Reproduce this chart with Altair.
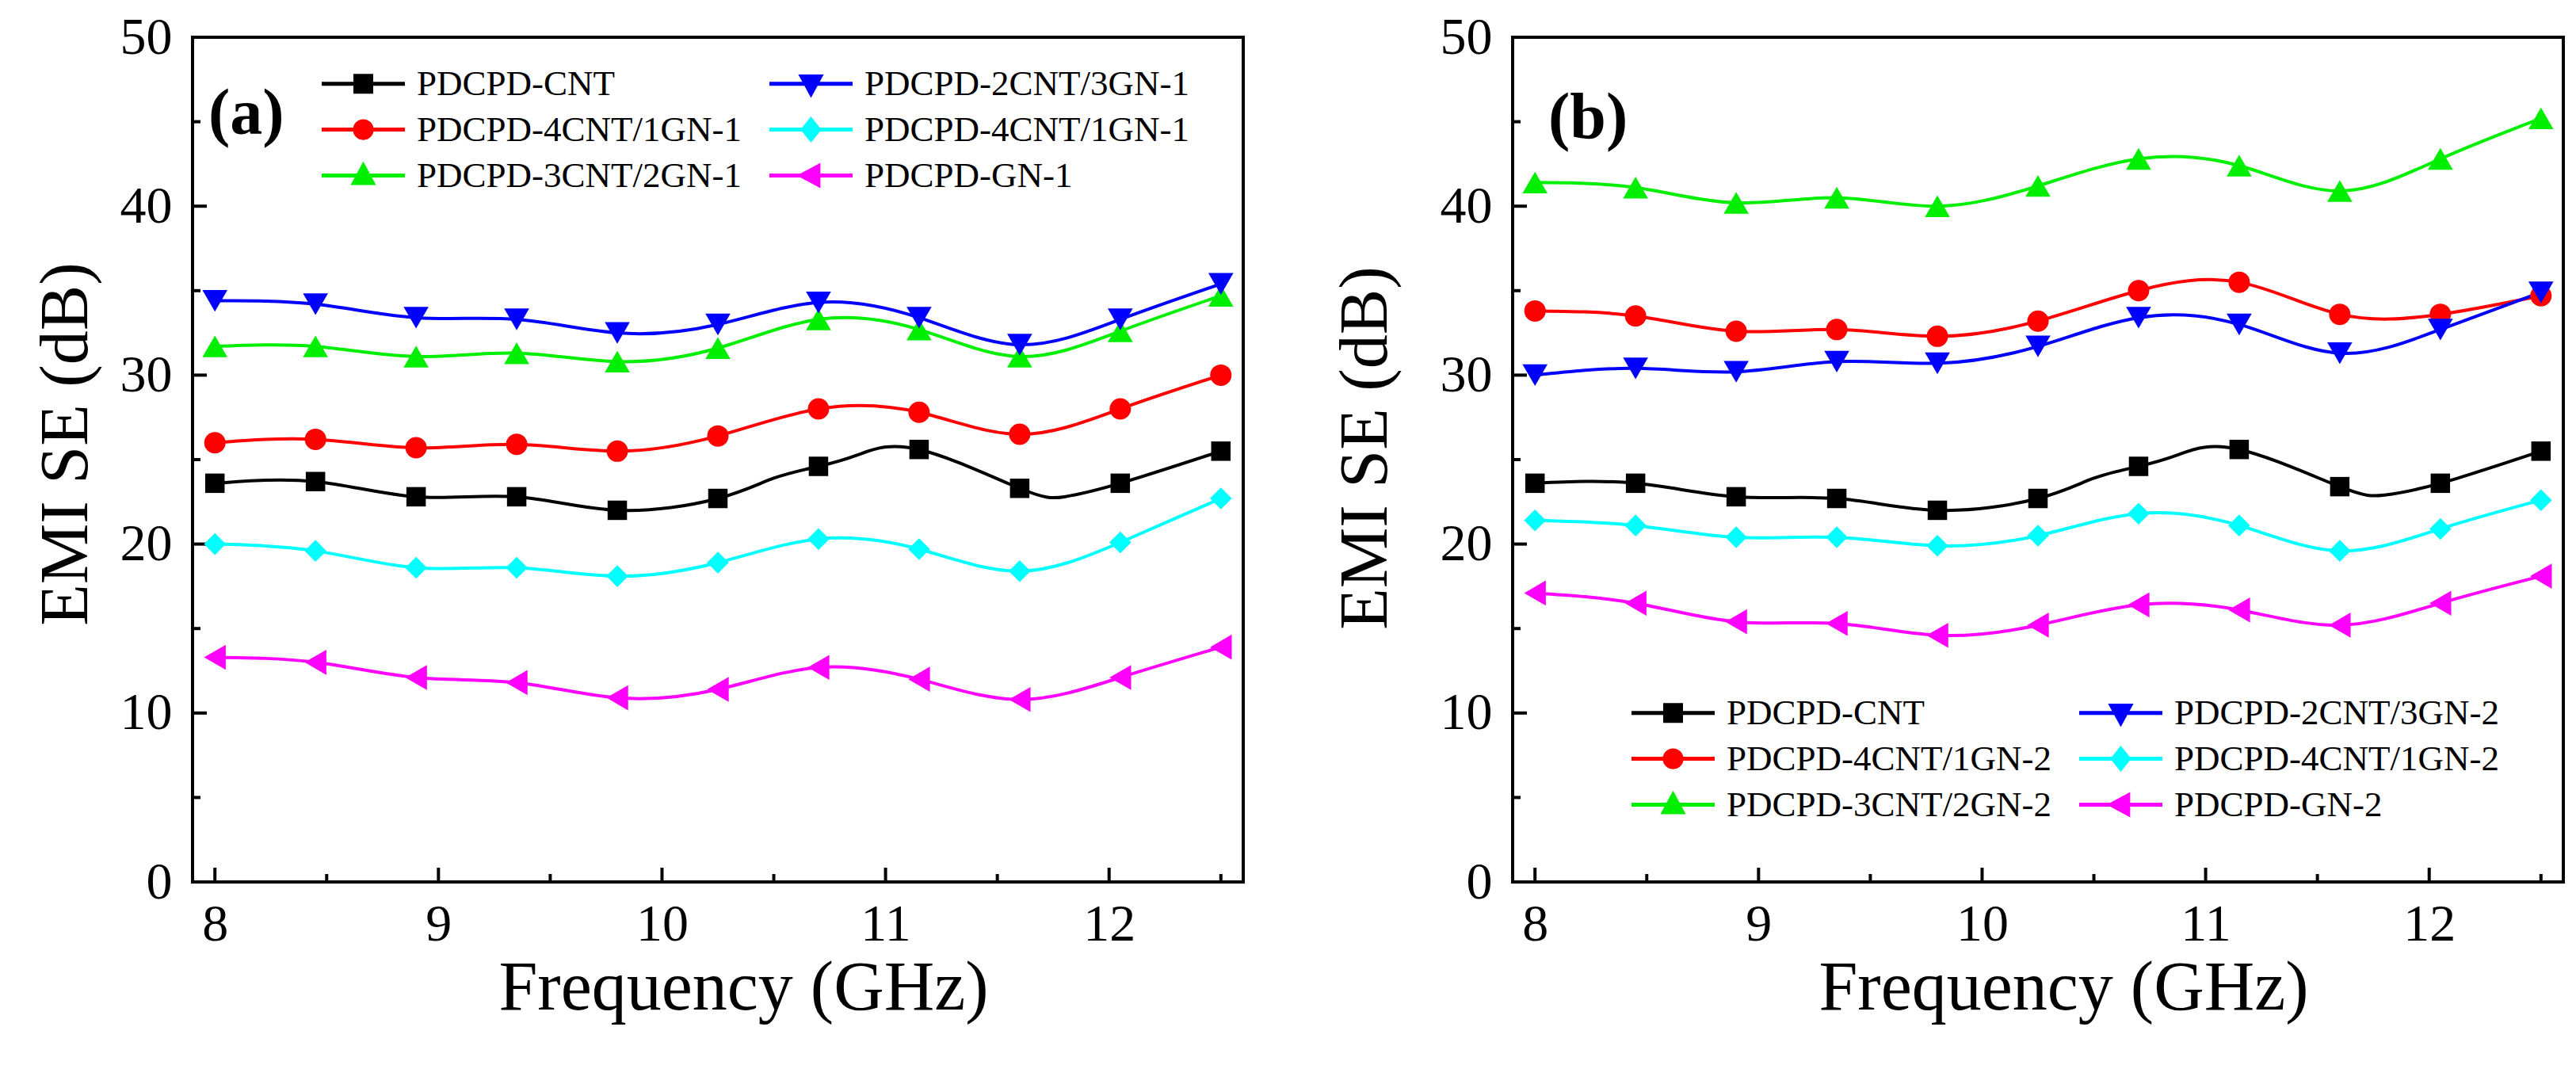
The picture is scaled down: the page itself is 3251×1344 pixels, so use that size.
import altair as alt
import pandas as pd

# ---------------- data ----------------
FREQ = [8.0, 8.45, 8.9, 9.35, 9.8, 10.25, 10.7, 11.15, 11.6, 12.05, 12.5]

# panel (a)
A_CNT = [23.6, 23.7, 22.8, 22.8, 22.0, 22.7, 24.6, 25.6, 23.3, 23.6, 25.5]
A_4CNT1GN_RED = [26.0, 26.2, 25.7, 25.9, 25.5, 26.4, 28.0, 27.8, 26.5, 28.0, 30.0]
A_3CNT2GN = [31.7, 31.7, 31.1, 31.3, 30.8, 31.6, 33.3, 32.7, 31.1, 32.6, 34.7]
A_2CNT3GN = [34.4, 34.2, 33.4, 33.3, 32.5, 33.0, 34.3, 33.4, 31.8, 33.3, 35.4]
A_4CNT1GN_CYAN = [20.0, 19.6, 18.6, 18.6, 18.1, 18.9, 20.3, 19.7, 18.4, 20.1, 22.7]
A_GN = [13.3, 13.0, 12.1, 11.8, 10.9, 11.4, 12.7, 12.0, 10.8, 12.1, 13.9]

# panel (b)
B_CNT = [23.6, 23.6, 22.8, 22.7, 22.0, 22.7, 24.6, 25.6, 23.4, 23.6, 25.5]
B_4CNT1GN_RED = [33.8, 33.5, 32.6, 32.7, 32.3, 33.2, 35.0, 35.5, 33.6, 33.6, 34.7]
B_3CNT2GN = [41.4, 41.1, 40.2, 40.5, 40.0, 41.2, 42.8, 42.4, 40.9, 42.8, 45.2]
B_2CNT3GN = [30.0, 30.4, 30.2, 30.8, 30.7, 31.7, 33.4, 33.0, 31.3, 32.7, 34.9]
B_4CNT1GN_CYAN = [21.4, 21.1, 20.4, 20.4, 19.9, 20.5, 21.8, 21.1, 19.6, 20.9, 22.6]
B_GN = [17.1, 16.5, 15.4, 15.3, 14.6, 15.2, 16.4, 16.1, 15.2, 16.5, 18.1]

# extra points read on the black curves between markers (line only)
CNT_EXTRA_FREQ = [10.5, 10.88, 11.8]
A_CNT_EXTRA = [23.9, 25.3, 22.8]
B_CNT_EXTRA = [23.9, 25.3, 22.9]

# legend order (filled column by column)
KEYS = ["cnt", "c4g1r", "c3g2", "c2g3", "c4g1c", "gn"]
NAMES_A = ["PDCPD-CNT", "PDCPD-4CNT/1GN-1", "PDCPD-3CNT/2GN-1",
           "PDCPD-2CNT/3GN-1", "PDCPD-4CNT/1GN-1", "PDCPD-GN-1"]
NAMES_B = ["PDCPD-CNT", "PDCPD-4CNT/1GN-2", "PDCPD-3CNT/2GN-2",
           "PDCPD-2CNT/3GN-2", "PDCPD-4CNT/1GN-2", "PDCPD-GN-2"]
TAGS = ["(a)", "(b)"]

Y_MAJOR = [0, 10, 20, 30, 40, 50]
Y_MINOR = [5, 15, 25, 35, 45]
X_MAJOR = [8, 9, 10, 11, 12]
X_MINOR = [8.5, 9.5, 10.5, 11.5, 12.5]

# ---------------- styles ----------------
COLORS = ["#000000", "#ff0000", "#00ee00", "#0000ff", "#00ffff", "#ff00ff"]
MARKERS = ["square", "circle", "triangle-up", "triangle-down", "diamond", "triangle-left"]
MSIZES = [600, 729, 1000, 1000, 760, 1000]
LEGEND_PATHS = [
    "M-4.2,0H4.2M-0.8,-0.8H0.8V0.8H-0.8Z",
    "M-4.2,0H4.2M-0.85,0A0.85,0.85,0,1,0,0.85,0A0.85,0.85,0,1,0,-0.85,0Z",
    "M-4.2,0H4.2M0,-1L0.95,0.75L-0.95,0.75Z",
    "M-4.2,0H4.2M0,1L0.95,-0.75L-0.95,-0.75Z",
    "M-4.2,0H4.2M0,-1L0.8,0L0,1L-0.8,0Z",
    "M-4.2,0H4.2M-1,0L0.75,-0.95L0.75,0.95Z",
]
FONT = "Liberation Serif"
W, H = 1326, 1066

x_scale = alt.Scale(domain=[7.9, 12.6], nice=False, zero=False)
y_scale = alt.Scale(domain=[0, 50], nice=False, zero=False)


def panel(values, names, extra, tag, tag_x, tag_y, leg_x, leg_y, y_title_pad, y_title_y):
    x_axis = alt.Axis(values=X_MAJOR, format="d", ticks=False, tickSize=0, domain=False,
                      grid=False, labelFont=FONT, labelFontSize=66, labelColor="black",
                      labelPadding=21, labelFlush=False, titleFont=FONT, titleFontSize=88,
                      titleFontWeight="normal", titleColor="black", titlePadding=4,
                      titleX=695)
    y_axis = alt.Axis(values=Y_MAJOR, format="d", ticks=False, tickSize=0, domain=False,
                      grid=False, labelFont=FONT, labelFontSize=66, labelColor="black",
                      labelPadding=26, labelFlush=False, titleFont=FONT, titleFontSize=86,
                      titleFontWeight="normal", titleColor="black", titlePadding=y_title_pad,
                      titleY=y_title_y)
    X = alt.X("f:Q", scale=x_scale, axis=x_axis, title="Frequency (GHz)")
    Y = alt.Y("se:Q", scale=y_scale, axis=y_axis, title="EMI SE (dB)")

    layers = []
    # inward ticks
    layers.append(alt.Chart(pd.DataFrame({"se": Y_MAJOR})).mark_rule(color="black", strokeWidth=4)
                  .encode(y=Y, x=alt.value(0), x2=alt.value(18)))
    layers.append(alt.Chart(pd.DataFrame({"se": Y_MINOR})).mark_rule(color="black", strokeWidth=4)
                  .encode(y=Y, x=alt.value(0), x2=alt.value(10)))
    layers.append(alt.Chart(pd.DataFrame({"f": X_MAJOR})).mark_rule(color="black", strokeWidth=4)
                  .encode(x=X, y=alt.value(H), y2=alt.value(H - 18)))
    layers.append(alt.Chart(pd.DataFrame({"f": X_MINOR})).mark_rule(color="black", strokeWidth=4)
                  .encode(x=X, y=alt.value(H), y2=alt.value(H - 10)))

    # curves
    for i, key in enumerate(KEYS):
        f_line = list(FREQ)
        v_line = list(values[i])
        if key == "cnt":
            pairs = sorted(list(zip(f_line, v_line)) + list(zip(CNT_EXTRA_FREQ, extra)))
            f_line = [p[0] for p in pairs]
            v_line = [p[1] for p in pairs]
        df_line = pd.DataFrame({"f": f_line, "se": v_line})
        layers.append(alt.Chart(df_line).mark_line(color=COLORS[i], strokeWidth=4,
                                                   interpolate="natural")
                      .encode(x=X, y=Y))
    # markers
    for i, key in enumerate(KEYS):
        df_pt = pd.DataFrame({"f": FREQ, "se": values[i]})
        layers.append(alt.Chart(df_pt).mark_point(shape=MARKERS[i], size=MSIZES[i], filled=True,
                                                  opacity=1, color=COLORS[i], strokeWidth=0)
                      .encode(x=X, y=Y))

    # legend (empty layer providing the legend symbols)
    label_expr = ("[" + ",".join("'" + n + "'" for n in names) + "][indexof(["
                  + ",".join("'" + k + "'" for k in KEYS) + "], datum.label)]")
    legend = alt.Legend(orient="none", legendX=leg_x, legendY=leg_y, columns=2, title=None,
                        labelFont=FONT, labelFontSize=45, labelColor="black", labelLimit=2000,
                        symbolSize=625, symbolStrokeWidth=5, symbolOpacity=1,
                        labelOffset=45, columnPadding=24, rowPadding=12, padding=0,
                        labelExpr=label_expr)
    leg_df = pd.DataFrame({"f": [8.0] * len(KEYS), "se": [0.0] * len(KEYS), "key": KEYS})
    layers.append(alt.Chart(leg_df).transform_filter("false")
                  .mark_point(filled=True, opacity=1, strokeWidth=5)
                  .encode(x=X, y=Y,
                          color=alt.Color("key:N", scale=alt.Scale(domain=KEYS, range=COLORS),
                                          legend=legend, title=None),
                          stroke=alt.Stroke("key:N", scale=alt.Scale(domain=KEYS, range=COLORS),
                                            legend=legend, title=None),
                          shape=alt.Shape("key:N", scale=alt.Scale(domain=KEYS, range=LEGEND_PATHS),
                                          legend=legend, title=None)))
    # panel tag
    layers.append(alt.Chart(pd.DataFrame({"t": [tag]}))
                  .mark_text(font=FONT, fontSize=82, fontWeight="bold", align="left",
                             baseline="middle", color="black")
                  .encode(x=alt.value(tag_x), y=alt.value(tag_y), text="t:N"))
    return alt.layer(*layers).properties(width=W, height=H)


left = panel([A_CNT, A_4CNT1GN_RED, A_3CNT2GN, A_2CNT3GN, A_4CNT1GN_CYAN, A_GN], NAMES_A,
             A_CNT_EXTRA, TAGS[0], 20, 97, 193, 36, 24, 513)
right = panel([B_CNT, B_4CNT1GN_RED, B_3CNT2GN, B_2CNT3GN, B_4CNT1GN_CYAN, B_GN], NAMES_B,
              B_CNT_EXTRA, TAGS[1], 45, 102, 180, 830, 50, 518)

chart = (alt.hconcat(left, right, spacing=107)
         .resolve_scale(color="independent", stroke="independent", shape="independent")
         .resolve_legend(color="independent", stroke="independent", shape="independent")
         .properties(padding={"left": 30, "top": 4, "right": 0, "bottom": 0}, background="white")
         .configure_view(stroke="black", strokeWidth=4)
         .configure_axis(labelFont=FONT, titleFont=FONT)
         .configure_legend(labelFont=FONT))

chart.save("out.html", embed_options={"renderer": "svg", "actions": False})
